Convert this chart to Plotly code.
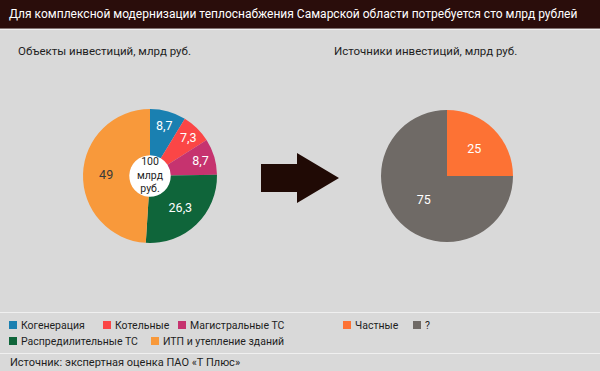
import plotly.graph_objects as go

W, H = 600, 371

# ---- data ----
obj_labels = ["Когенерация", "Котельные", "Магистральные ТС", "Распредилительные ТС", "ИТП и утепление зданий"]
obj_values = [8.7, 7.3, 8.7, 26.3, 49]
obj_colors = ["#1a80b1", "#fb4646", "#c6336f", "#0f653a", "#f8993b"]
obj_text_colors = ["white", "white", "white", "white", "#3a3a3a"]

src_labels = ["Частные", "?"]
src_values = [25, 75]
src_colors = ["#fd7234", "#6f6a66"]

title = "Для комплексной модернизации теплоснабжения Самарской области потребуется сто млрд рублей"
left_title = "Объекты инвестиций, млрд руб."
right_title = "Источники инвестиций, млрд руб."
center_text = "100<br>млрд<br>руб."
source_text = "Источник: экспертная оценка ПАО «Т Плюс»"

FONT = "Roboto, sans-serif"

def px(x):
    return x / W

def py(y):
    return 1 - y / H

fig = go.Figure()

# left pie
lcx, lcy, lr = 150, 176, 67
fig.add_trace(go.Pie(
    labels=obj_labels, values=obj_values, sort=False, direction="clockwise", rotation=0,
    marker=dict(colors=obj_colors, line=dict(width=0)),
    hole=0.31,
    texttemplate="%{value}", textinfo="value", textposition="inside",
    insidetextorientation="horizontal",
    insidetextfont=dict(color=obj_text_colors, size=12.5, family=FONT),
    domain=dict(x=[px(lcx - lr), px(lcx + lr)], y=[py(lcy + lr), py(lcy - lr)]),
    showlegend=False, hoverinfo="label+value",
))

# right pie
rcx, rcy, rr = 447, 176, 66
fig.add_trace(go.Pie(
    labels=src_labels, values=src_values, sort=False, direction="clockwise", rotation=0,
    marker=dict(colors=src_colors, line=dict(width=0)),
    texttemplate="%{value}", textinfo="value", textposition="inside",
    insidetextorientation="horizontal",
    insidetextfont=dict(color="white", size=12.5, family=FONT),
    domain=dict(x=[px(rcx - rr), px(rcx + rr)], y=[py(rcy + rr), py(rcy - rr)]),
    showlegend=False, hoverinfo="label+value",
))

shapes = []
annotations = []

# title bar
shapes.append(dict(type="rect", xref="paper", yref="paper", x0=0, x1=1, y0=py(28.5), y1=1,
                   fillcolor="#2a0d0b", line=dict(width=0), layer="below"))
shapes.append(dict(type="line", xref="paper", yref="paper", x0=0, x1=1, y0=py(29.5), y1=py(29.5),
                   line=dict(color="#efefef", width=1), layer="below"))
annotations.append(dict(text=title, xref="paper", yref="paper", x=px(7), y=py(14), xanchor="left",
                        yanchor="middle", showarrow=False, font=dict(color="white", size=12, family=FONT)))

# subtitles
annotations.append(dict(text=left_title, xref="paper", yref="paper", x=px(16), y=py(51), xanchor="left",
                        yanchor="middle", showarrow=False, font=dict(color="#1e1e1e", size=11.5, family=FONT)))
annotations.append(dict(text=right_title, xref="paper", yref="paper", x=px(332), y=py(51), xanchor="left",
                        yanchor="middle", showarrow=False, font=dict(color="#1e1e1e", size=11.5, family=FONT)))

# white center disc
hr = 21
shapes.append(dict(type="circle", xref="paper", yref="paper",
                   x0=px(lcx - hr), x1=px(lcx + hr), y0=py(lcy + hr), y1=py(lcy - hr),
                   fillcolor="white", line=dict(width=0), layer="below"))
annotations.append(dict(text=center_text, xref="paper", yref="paper", x=px(lcx), y=py(lcy - 1), xanchor="center",
                        yanchor="middle", showarrow=False, align="center",
                        font=dict(color="#1e1e1e", size=10.5, family=FONT)))

# arrow
ax = [261, 297, 297, 339, 297, 297, 261]
ay = [164, 164, 153, 178, 203, 192, 192]
path = "M " + " L ".join(f"{px(a):.5f},{py(b):.5f}" for a, b in zip(ax, ay)) + " Z"
shapes.append(dict(type="path", xref="paper", yref="paper", path=path,
                   fillcolor="#200a05", line=dict(width=0)))

# separator lines
for yy, col in [(312.5, "#f0f0f0"), (353.5, "#f0f0f0")]:
    shapes.append(dict(type="line", xref="paper", yref="paper", x0=0, x1=1, y0=py(yy), y1=py(yy),
                       line=dict(color=col, width=1), layer="below"))

LEGFONT = dict(color="#1e1e1e", size=10.5, family=FONT)
# custom legend
leg_pos = [(6, 325), (100, 325), (175, 325), (6, 341), (148, 341)]
for (lx, ly), lab, col in zip(leg_pos, obj_labels, obj_colors):
    shapes.append(dict(type="rect", xref="paper", yref="paper", x0=px(lx + 3), x1=px(lx + 11),
                       y0=py(ly + 4), y1=py(ly - 4), fillcolor=col, line=dict(width=0)))
    annotations.append(dict(text=lab, xref="paper", yref="paper", x=px(lx + 13), y=py(ly), xanchor="left",
                            yanchor="middle", showarrow=False, font=LEGFONT))
src_leg_pos = [(340, 325), (410, 325)]
for (lx, ly), lab, col in zip(src_leg_pos, src_labels, src_colors):
    shapes.append(dict(type="rect", xref="paper", yref="paper", x0=px(lx + 3), x1=px(lx + 11),
                       y0=py(ly + 4), y1=py(ly - 4), fillcolor=col, line=dict(width=0)))
    annotations.append(dict(text=lab, xref="paper", yref="paper", x=px(lx + 13), y=py(ly), xanchor="left",
                            yanchor="middle", showarrow=False, font=LEGFONT))

annotations.append(dict(text=source_text, xref="paper", yref="paper", x=px(8), y=py(362), xanchor="left",
                        yanchor="middle", showarrow=False, font=dict(color="#1e1e1e", size=11, family=FONT)))

fig.update_layout(
    width=W, height=H, margin=dict(l=0, r=0, t=0, b=0),
    paper_bgcolor="#d9d9d9", plot_bgcolor="#d9d9d9",
    separators=", ",
    shapes=shapes, annotations=annotations,
    font=dict(family=FONT),
)

fig.write_html("out.html", config={"displayModeBar": False},
               post_script="document.body.style.margin='0';document.body.style.overflow='hidden';")
